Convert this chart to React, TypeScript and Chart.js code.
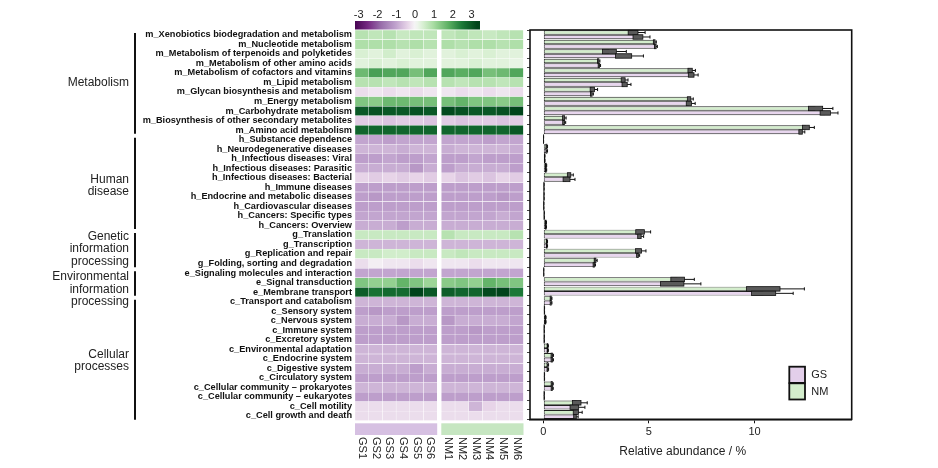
import React, { useEffect, useRef } from "react";
import { Chart, registerables } from "chart.js";
Chart.register(...registerables);

// ---------------- DATA ----------------
const rowLabels = [
  "m_Xenobiotics biodegradation and metabolism",
  "m_Nucleotide metabolism",
  "m_Metabolism of terpenoids and polyketides",
  "m_Metabolism of other amino acids",
  "m_Metabolism of cofactors and vitamins",
  "m_Lipid metabolism",
  "m_Glycan biosynthesis and metabolism",
  "m_Energy metabolism",
  "m_Carbohydrate metabolism",
  "m_Biosynthesis of other secondary metabolites",
  "m_Amino acid metabolism",
  "h_Substance dependence",
  "h_Neurodegenerative diseases",
  "h_Infectious diseases: Viral",
  "h_Infectious diseases: Parasitic",
  "h_Infectious diseases: Bacterial",
  "h_Immune diseases",
  "h_Endocrine and metabolic diseases",
  "h_Cardiovascular diseases",
  "h_Cancers: Specific types",
  "h_Cancers: Overview",
  "g_Translation",
  "g_Transcription",
  "g_Replication and repair",
  "g_Folding, sorting and degradation",
  "e_Signaling molecules and interaction",
  "e_Signal transduction",
  "e_Membrane transport",
  "c_Transport and catabolism",
  "c_Sensory system",
  "c_Nervous system",
  "c_Immune system",
  "c_Excretory system",
  "c_Environmental adaptation",
  "c_Endocrine system",
  "c_Digestive system",
  "c_Circulatory system",
  "c_Cellular community \u2013 prokaryotes",
  "c_Cellular community \u2013 eukaryotes",
  "c_Cell motility",
  "c_Cell growth and death",
];

const groupNames = [
  ["Metabolism"],
  ["Human", "disease"],
  ["Genetic", "information", "processing"],
  ["Environmental", "information", "processing"],
  ["Cellular", "processes"],
];
const groupSizes = [11, 10, 4, 3, 13];

const sampleNames = ["GS1", "GS2", "GS3", "GS4", "GS5", "GS6", "NM1", "NM2", "NM3", "NM4", "NM5", "NM6"];

// heatmap z-scores, one array per sample (rows in rowLabels order)
const GS1 = [0.8,0.9,0.4,0.3,1.6,0.8,-0.3,1.4,3.0,-0.5,2.8,-1.0,-0.8,-1.1,-0.9,-0.4,-1.1,-1.1,-1.1,-1.0,-0.9,0.6,-0.8,0.6,-0.3,-1.0,1.4,2.9,-0.8,-1.1,-0.9,-1.1,-1.1,-0.8,-0.8,-0.9,-1.1,-0.8,-1.1,-0.3,-0.3];
const GS2 = [0.7,0.9,0.3,0.4,2.0,0.8,-0.2,1.3,3.1,-0.5,2.8,-1.0,-0.8,-1.1,-0.9,-0.5,-1.1,-1.2,-1.1,-1.0,-0.9,0.6,-0.8,0.6,-0.1,-1.0,1.2,2.6,-0.8,-1.2,-0.9,-1.1,-1.1,-0.8,-0.8,-0.9,-1.1,-0.8,-1.1,-0.3,-0.3];
const GS3 = [0.8,0.9,0.5,0.3,1.9,0.7,-0.3,1.6,3.0,-0.6,2.8,-1.1,-0.8,-1.0,-0.9,-0.4,-1.1,-1.1,-1.1,-1.0,-0.9,0.6,-0.8,0.5,-0.2,-1.0,1.2,2.7,-0.8,-1.1,-0.9,-1.1,-1.1,-0.8,-0.8,-0.9,-1.1,-0.8,-1.1,-0.3,-0.3];
const GS4 = [0.6,0.8,0.3,0.4,1.9,0.8,-0.2,1.6,3.0,-0.5,2.8,-1.0,-0.9,-1.1,-0.9,-0.5,-1.1,-1.1,-1.1,-1.0,-1.1,0.6,-0.8,0.5,-0.2,-1.0,1.7,2.7,-0.8,-1.1,-1.2,-1.1,-1.1,-0.8,-0.8,-0.9,-1.1,-0.8,-1.1,-0.3,-0.3];
const GS5 = [0.7,0.9,0.4,0.3,1.5,0.7,-0.3,1.5,3.1,-0.5,2.8,-1.0,-0.8,-1.1,-1.2,-0.4,-1.1,-1.1,-1.1,-1.0,-0.9,0.6,-0.8,0.6,-0.3,-1.0,1.4,3.4,-0.8,-1.1,-0.9,-1.1,-1.1,-0.8,-0.8,-1.1,-1.1,-0.8,-1.1,-0.3,-0.3];
const GS6 = [0.7,0.8,0.3,0.3,1.9,0.8,-0.2,1.5,3.0,-0.6,2.8,-1.0,-0.8,-1.0,-0.9,-0.5,-1.1,-1.1,-1.1,-1.0,-0.9,0.6,-0.8,0.6,-0.2,-1.0,1.1,3.0,-0.8,-1.1,-0.9,-1.1,-1.1,-0.8,-0.8,-0.9,-1.1,-0.8,-1.1,-0.3,-0.3];
const NM1 = [0.7,0.9,0.3,0.3,1.9,0.8,-0.2,1.5,3.2,-0.5,2.8,-1.0,-0.9,-1.1,-1.1,-0.4,-1.1,-1.1,-1.1,-1.0,-0.9,0.8,-0.8,0.6,-0.2,-1.0,1.3,2.9,-0.8,-1.1,-1.2,-1.1,-1.1,-0.8,-0.8,-0.9,-1.1,-0.8,-1.1,-0.3,-0.3];
const NM2 = [0.8,0.8,0.4,0.3,1.8,0.7,-0.3,1.7,3.1,-0.6,2.8,-1.0,-0.8,-1.1,-0.9,-0.6,-1.1,-1.1,-1.1,-1.0,-0.9,0.6,-0.8,0.7,-0.2,-1.0,1.4,2.8,-0.8,-1.1,-0.9,-1.1,-1.1,-0.8,-0.8,-0.9,-1.1,-0.8,-1.1,-0.3,-0.3];
const NM3 = [0.7,0.9,0.3,0.4,1.9,0.8,-0.2,1.4,3.0,-0.5,2.8,-1.0,-0.8,-1.0,-0.9,-0.5,-1.1,-1.1,-1.1,-1.0,-0.9,0.6,-0.8,0.6,-0.3,-1.0,1.2,2.8,-0.8,-1.1,-0.9,-1.2,-1.1,-0.8,-0.8,-0.9,-1.1,-0.8,-1.1,-0.8,-0.3];
const NM4 = [0.6,0.9,0.4,0.3,1.5,0.8,-0.3,1.4,3.0,-0.5,2.8,-1.1,-0.8,-1.1,-0.9,-0.6,-1.1,-1.1,-1.1,-1.0,-0.9,0.6,-0.8,0.6,-0.2,-1.0,1.7,3.2,-0.8,-1.1,-0.9,-1.1,-1.1,-0.8,-0.8,-0.9,-1.1,-0.8,-1.1,-0.4,-0.3];
const NM5 = [0.7,0.8,0.3,0.3,1.6,0.7,-0.2,1.3,3.1,-0.6,2.8,-1.0,-0.8,-1.1,-0.9,-0.4,-1.1,-1.2,-1.1,-0.9,-0.9,0.6,-0.8,0.6,-0.2,-1.0,1.5,3.4,-0.8,-1.1,-0.9,-1.1,-1.1,-0.8,-0.8,-0.9,-1.1,-0.8,-1.1,-0.3,-0.3];
const NM6 = [0.8,0.9,0.3,0.2,1.9,0.8,-0.3,1.5,3.3,-0.5,3.0,-1.0,-0.9,-1.1,-1.1,-0.5,-1.1,-1.1,-1.1,-1.0,-0.9,0.8,-0.8,0.6,-0.2,-1.0,1.4,2.5,-0.8,-1.1,-1.0,-1.1,-1.1,-0.8,-0.8,-0.9,-1.1,-0.8,-1.1,-0.3,-0.3];

// relative abundance (%) mean and SD, per group
const nmMean = [4.25,5.25,3.13,2.6,6.95,3.78,2.32,6.9,12.89,0.96,12.43,0.01,0.15,0.06,0.12,1.22,0.03,0.03,0.02,0.04,0.12,4.58,0.16,4.51,2.45,0.02,6.36,10.41,0.35,0.05,0.1,0.04,0.04,0.2,0.4,0.2,0.05,0.4,0.04,1.58,1.54];
const nmSd = [0.57,0.1,0.8,0.08,0.25,0.23,0.25,0.2,0.82,0.12,0.4,0.005,0.05,0.02,0.04,0.2,0.01,0.01,0.01,0.01,0.03,0.5,0.04,0.35,0.1,0.005,0.79,1.95,0.06,0.01,0.03,0.01,0.01,0.04,0.08,0.05,0.01,0.07,0.01,0.5,0.3];
const gsMean = [4.48,5.3,3.8,2.63,7.0,3.85,2.27,6.89,13.35,0.96,12.18,0.01,0.15,0.06,0.12,1.1,0.03,0.03,0.02,0.04,0.12,4.55,0.16,4.46,2.39,0.02,6.1,10.43,0.35,0.05,0.1,0.04,0.04,0.2,0.4,0.2,0.05,0.4,0.04,1.47,1.5];
const gsSd = [0.57,0.1,0.94,0.08,0.33,0.3,0.1,0.3,0.6,0.1,0.2,0.005,0.05,0.02,0.04,0.4,0.01,0.01,0.01,0.01,0.03,0.2,0.04,0.1,0.08,0.005,1.36,1.4,0.06,0.01,0.03,0.01,0.01,0.04,0.08,0.05,0.01,0.07,0.01,0.5,0.15];
const replicates = 6;

const xTicks = [0, 5, 10];
const colorbarTicks = [-3, -2, -1, 0, 1, 2, 3];

// ---------------- STYLE ----------------
const FONT = "'Liberation Sans', Arial, sans-serif";
const colorStops: [number, string][] = [
  [-3.3, "#40004b"], [-2.5, "#762a83"], [-1.8, "#9970ab"], [-1.0, "#c2a5cf"], [-0.4, "#e7d4e8"],
  [0, "#f7f7f7"], [0.4, "#d9f0d3"], [1.0, "#a6dba0"], [1.8, "#5aae61"], [2.5, "#1b7837"], [3.3, "#00441b"],
];
function hex(h: string) {
  return [parseInt(h.slice(1, 3), 16), parseInt(h.slice(3, 5), 16), parseInt(h.slice(5, 7), 16)];
}
function heatColor(v: number) {
  if (v <= colorStops[0][0]) return colorStops[0][1];
  for (let i = 1; i < colorStops.length; i++) {
    const [v1, c1] = colorStops[i];
    const [v0, c0] = colorStops[i - 1];
    if (v <= v1) {
      const t = (v - v0) / (v1 - v0);
      const a = hex(c0), b = hex(c1);
      const m = a.map((x, k) => Math.round(x + (b[k] - x) * t));
      return `rgb(${m[0]},${m[1]},${m[2]})`;
    }
  }
  return colorStops[colorStops.length - 1][1];
}

const columns = [GS1, GS2, GS3, GS4, GS5, GS6, NM1, NM2, NM3, NM4, NM5, NM6];
const GAP = 0.3;
const colStart = (c: number) => (c < 6 ? c : c + GAP);

const heatPlugin = {
  id: "heatDeco",
  afterDraw(chart: any) {
    const ctx = chart.ctx;
    const xs = chart.scales.x;
    const ys = chart.scales.y;
    const area = chart.chartArea;
    const rowH = (area.bottom - area.top) / rowLabels.length;
    ctx.save();
    // colorbar
    const cbL = 355, cbR = 480, cbT = 21, cbB = 29.5, vmin = -3.2, vmax = 3.45;
    const grad = ctx.createLinearGradient(cbL, 0, cbR, 0);
    for (let k = 0; k <= 40; k++) {
      const v = vmin + ((vmax - vmin) * k) / 40;
      grad.addColorStop(k / 40, heatColor(v));
    }
    ctx.fillStyle = grad;
    ctx.fillRect(cbL, cbT, cbR - cbL, cbB - cbT);
    ctx.fillStyle = "#222";
    ctx.font = `11px ${FONT}`;
    ctx.textAlign = "center";
    ctx.textBaseline = "middle";
    colorbarTicks.forEach((t) => {
      const x = cbL + ((t - vmin) / (vmax - vmin)) * (cbR - cbL);
      ctx.fillText(String(t), x, 14.5);
    });
    // annotation strips
    const stripT = area.bottom + 2.6, stripB = area.bottom + 14.3;
    ctx.fillStyle = "#d6c0e2";
    ctx.fillRect(xs.getPixelForValue(0), stripT, xs.getPixelForValue(6) - xs.getPixelForValue(0), stripB - stripT);
    ctx.fillStyle = "#c6e6c1";
    ctx.fillRect(xs.getPixelForValue(6 + GAP), stripT, xs.getPixelForValue(12 + GAP) - xs.getPixelForValue(6 + GAP), stripB - stripT);
    // column labels
    ctx.fillStyle = "#222";
    ctx.font = `11px ${FONT}`;
    ctx.textAlign = "left";
    ctx.textBaseline = "middle";
    sampleNames.forEach((n, c) => {
      const cx = xs.getPixelForValue(colStart(c) + 0.5);
      ctx.save();
      ctx.translate(cx, stripB + 2);
      ctx.rotate(Math.PI / 2);
      ctx.fillText(n, 0, 0);
      ctx.restore();
    });
    // groups
    const offsets = [0, 3, 0, 7, 2];
    let start = 0;
    groupSizes.forEach((size, g) => {
      const top = ys.getPixelForValue(start) - rowH / 2;
      const bot = ys.getPixelForValue(start + size - 1) + rowH / 2;
      ctx.strokeStyle = "#111";
      ctx.lineWidth = 2;
      ctx.beginPath();
      ctx.moveTo(135, top + 3);
      ctx.lineTo(135, bot - 1);
      ctx.stroke();
      const lines = groupNames[g];
      const mid = (top + bot) / 2 + offsets[g];
      ctx.fillStyle = "#222";
      ctx.font = `12px ${FONT}`;
      ctx.textAlign = "right";
      ctx.textBaseline = "middle";
      lines.forEach((ln, k) => {
        ctx.fillText(ln, 129, mid + (k - (lines.length - 1) / 2) * 12.5);
      });
      start += size;
    });
    ctx.restore();
  },
};

const barPlugin = {
  id: "barDeco",
  afterDatasetsDraw(chart: any) {
    const ctx = chart.ctx;
    const xs = chart.scales.x;
    const series = [
      { mean: nmMean, sd: nmSd },
      { mean: gsMean, sd: gsSd },
    ];
    ctx.save();
    series.forEach((s, d) => {
      const meta = chart.getDatasetMeta(d);
      meta.data.forEach((el: any, i: number) => {
        const h = el.height;
        const m = s.mean[i];
        const sd = s.sd[i];
        const se = sd / Math.sqrt(replicates);
        const x0 = xs.getPixelForValue(Math.max(0, m - se));
        const x1 = xs.getPixelForValue(m + se);
        const x2 = xs.getPixelForValue(m + sd);
        ctx.fillStyle = "#5a5a5a";
        ctx.fillRect(x0, el.y - h / 2, x1 - x0, h);
        ctx.strokeStyle = "#111";
        ctx.lineWidth = 0.8;
        ctx.strokeRect(x0, el.y - h / 2, x1 - x0, h);
        ctx.beginPath();
        ctx.moveTo(x1, el.y);
        ctx.lineTo(x2, el.y);
        ctx.moveTo(x2, el.y - h * 0.35);
        ctx.lineTo(x2, el.y + h * 0.35);
        ctx.lineWidth = 1;
        ctx.stroke();
      });
    });
    ctx.restore();
  },
  afterDraw(chart: any) {
    const ctx = chart.ctx;
    const a = chart.chartArea;
    ctx.save();
    ctx.strokeStyle = "#111";
    ctx.lineWidth = 1.6;
    ctx.strokeRect(a.left, a.top, a.right - a.left, a.bottom - a.top);
    // legend (canvas offset: chart canvas starts at page x=520)
    const lx = 789.3 - 520, lw = 15.7;
    const items = [
      { label: "GS", color: "#e3cfea", top: 366.7 },
      { label: "NM", color: "#d3edcc", top: 383.3 },
    ];
    items.forEach((it) => {
      ctx.fillStyle = it.color;
      ctx.fillRect(lx, it.top, lw, 16.2);
      ctx.lineWidth = 1.8;
      ctx.strokeStyle = "#111";
      ctx.strokeRect(lx, it.top, lw, 16.2);
      ctx.fillStyle = "#222";
      ctx.font = `11px ${FONT}`;
      ctx.textAlign = "left";
      ctx.textBaseline = "middle";
      ctx.fillText(it.label, lx + 22, it.top + 8.5);
    });
    ctx.font = `12px ${FONT}`;
    ctx.textAlign = "center";
    ctx.textBaseline = "middle";
    ctx.fillStyle = "#222";
    ctx.fillText("Relative abundance / %", 682.7 - 520, 451.7);
    ctx.restore();
  },
};

export default function App() {
  const heatRef = useRef<HTMLCanvasElement>(null);
  const barRef = useRef<HTMLCanvasElement>(null);

  useEffect(() => {
    const heat = new Chart(heatRef.current!, {
      type: "bar",
      data: {
        labels: rowLabels,
        datasets: columns.map((col, c) => ({
          label: sampleNames[c],
          data: col.map(() => [colStart(c), colStart(c) + 1]) as any,
          backgroundColor: col.map((v) => heatColor(v)),
          borderColor: "rgba(255,255,255,0.45)",
          borderWidth: 0.5,
          borderSkipped: false,
          grouped: false,
          barPercentage: 1,
          categoryPercentage: 1,
        })),
      },
      options: {
        indexAxis: "y",
        animation: false,
        responsive: false,
        events: [],
        layout: { padding: { top: 30, bottom: 47.3, right: 3.5, left: 0 } },
        plugins: { legend: { display: false }, tooltip: { enabled: false } },
        scales: {
          x: { type: "linear", min: 0, max: 12 + GAP, display: false },
          y: {
            type: "category",
            ticks: { font: { family: FONT, size: 9.2, weight: "bold" }, color: "#111", padding: 3, autoSkip: false },
            grid: { display: false, drawTicks: false },
            border: { display: false },
            afterFit: (s: any) => { s.width = 355; },
          },
        },
      },
      plugins: [heatPlugin],
    } as any);

    const bar = new Chart(barRef.current!, {
      type: "bar",
      data: {
        labels: rowLabels,
        datasets: [
          { label: "NM", data: nmMean, backgroundColor: "#d3edcc", borderColor: "#222", borderWidth: 0.9, borderSkipped: false },
          { label: "GS", data: gsMean, backgroundColor: "#e8d6ee", borderColor: "#222", borderWidth: 0.9, borderSkipped: false },
        ],
      },
      options: {
        indexAxis: "y",
        animation: false,
        responsive: false,
        events: [],
        datasets: { bar: { categoryPercentage: 0.94, barPercentage: 1 } },
        layout: { padding: { top: 30, right: 86.3, left: 0, bottom: 0 } },
        plugins: { legend: { display: false }, tooltip: { enabled: false } },
        scales: {
          x: {
            type: "linear",
            min: -0.63,
            max: 14.6,
            afterBuildTicks: (s: any) => { s.ticks = xTicks.map((v) => ({ value: v })); },
            ticks: { font: { family: FONT, size: 11 }, color: "#222", padding: 2 },
            grid: { drawOnChartArea: false, tickLength: 4, color: "#111" },
            border: { display: true, color: "#111", width: 1.6 },
            afterFit: (s: any) => { s.height = 468 - 419.3; },
          },
          y: {
            type: "category",
            ticks: { display: false },
            grid: { drawOnChartArea: false, tickLength: 3, color: "#444" },
            border: { display: false },
            afterFit: (s: any) => { s.width = 10; },
          },
        },
      },
      plugins: [barPlugin],
    } as any);

    return () => {
      heat.destroy();
      bar.destroy();
    };
  }, []);

  return (
    <div style={{ position: "absolute", left: 0, top: 0, width: 938, height: 468, background: "#fff" }}>
      <canvas ref={heatRef} width={527} height={468} style={{ position: "absolute", left: 0, top: 0 }} />
      <canvas ref={barRef} width={418} height={468} style={{ position: "absolute", left: 520, top: 0 }} />
    </div>
  );
}
